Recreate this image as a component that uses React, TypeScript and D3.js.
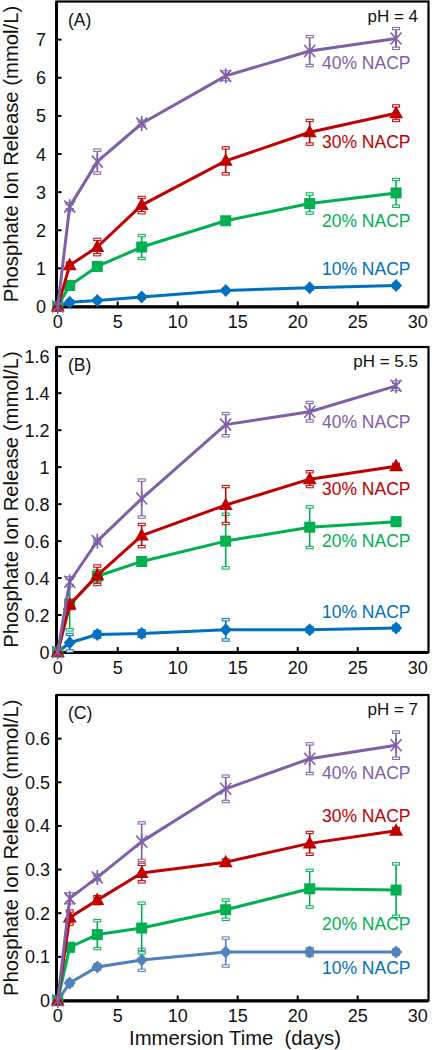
import React from 'react';
import * as d3 from 'd3';

// ---------- data ----------
const days = [0, 1, 3.3, 7, 14, 21, 28.2];
const seriesNames = ['10% NACP', '20% NACP', '30% NACP', '40% NACP'];
const xTicks = [0, 5, 10, 15, 20, 25, 30];

// Panel A, pH 4
const a10 = [0, 0.11, 0.16, 0.25, 0.42, 0.49, 0.55];
const a10Err = [0, 0.03, 0.03, 0.03, 0.03, 0.03, 0.03];
const a20 = [0, 0.55, 1.05, 1.56, 2.25, 2.7, 2.98];
const a20Err = [0, 0.06, 0.08, 0.3, 0.06, 0.25, 0.35];
const a30 = [0, 1.08, 1.56, 2.66, 3.82, 4.57, 5.07];
const a30Err = [0, 0.06, 0.2, 0.2, 0.34, 0.31, 0.19];
const a40 = [0, 2.62, 3.8, 4.8, 6.05, 6.7, 7.03];
const a40Err = [0, 0.08, 0.3, 0.06, 0.1, 0.38, 0.26];
const aTicks = [0, 1, 2, 3, 4, 5, 6, 7];
const aLabelY = [0.83, 2.09, 4.16, 6.24];

// Panel B, pH 5.5
const b10 = [0, 0.05, 0.095, 0.1, 0.12, 0.12, 0.13];
const b10Err = [0, 0.045, 0.015, 0.015, 0.055, 0.01, 0.01];
const b20 = [0, 0.26, 0.41, 0.49, 0.6, 0.675, 0.705];
const b20Err = [0, 0.14, 0.03, 0.02, 0.145, 0.11, 0.02];
const b30 = [0, 0.255, 0.415, 0.63, 0.795, 0.935, 1.005];
const b30Err = [0, 0.02, 0.05, 0.06, 0.1, 0.04, 0.01];
const b40 = [0, 0.38, 0.6, 0.83, 1.23, 1.3, 1.44];
const b40Err = [0, 0.02, 0.01, 0.1, 0.06, 0.05, 0.02];
const bTicks = [0, 0.2, 0.4, 0.6, 0.8, 1, 1.2, 1.4, 1.6];
const bLabelY = [0.184, 0.568, 0.849, 1.213];

// Panel C, pH 7
const c10 = [0, 0.04, 0.077, 0.093, 0.111, 0.111, 0.111];
const c10Err = [0, 0.005, 0.005, 0.024, 0.032, 0.008, 0.005];
const c20 = [0, 0.122, 0.151, 0.166, 0.208, 0.256, 0.253];
const c20Err = [0, 0.008, 0.032, 0.057, 0.022, 0.042, 0.06];
const c30 = [0, 0.19, 0.23, 0.292, 0.317, 0.36, 0.389];
const c30Err = [0, 0.015, 0.008, 0.02, 0.005, 0.025, 0.005];
const c40 = [0, 0.234, 0.282, 0.364, 0.485, 0.554, 0.585];
const c40Err = [0, 0.01, 0.005, 0.043, 0.029, 0.034, 0.03];
const cTicks = [0, 0.1, 0.2, 0.3, 0.4, 0.5, 0.6];
const cLabelY = [0.06, 0.161, 0.409, 0.507];

const FONT = "'Liberation Sans', Arial, Helvetica, sans-serif";
const PURPLE = '#7F60A8';
const RED = '#C00000';
const GREEN = '#00B050';
const BLUE = '#0070C0';
const STEEL = '#4F81BD';

type PanelDef = {
  tag: string;
  ph: string;
  yMax: number;
  ticks: number[];
  values: number[][];
  errs: number[][];
  labelY: number[];
  top: number;
  bottom: number;
  lineColors: string[];
  labelColors: string[];
  tickRight: number;
};

const panels: PanelDef[] = [
  {
    tag: '(A)', ph: 'pH = 4', yMax: 8, ticks: aTicks,
    values: [a10, a20, a30, a40], errs: [a10Err, a20Err, a30Err, a40Err],
    labelY: aLabelY, top: 1.5, bottom: 306.5,
    lineColors: [BLUE, GREEN, RED, PURPLE], labelColors: [BLUE, GREEN, RED, PURPLE],
    tickRight: 46,
  },
  {
    tag: '(B)', ph: 'pH = 5.5', yMax: 1.65, ticks: bTicks,
    values: [b10, b20, b30, b40], errs: [b10Err, b20Err, b30Err, b40Err],
    labelY: bLabelY, top: 347, bottom: 652,
    lineColors: [BLUE, GREEN, RED, PURPLE], labelColors: [BLUE, GREEN, RED, PURPLE],
    tickRight: 49.5,
  },
  {
    tag: '(C)', ph: 'pH = 7', yMax: 0.7, ticks: cTicks,
    values: [c10, c20, c30, c40], errs: [c10Err, c20Err, c30Err, c40Err],
    labelY: cLabelY, top: 695, bottom: 1000.5,
    lineColors: [STEEL, GREEN, RED, PURPLE], labelColors: [BLUE, GREEN, RED, PURPLE],
    tickRight: 50,
  },
];

const LEFT = 56.5;
const RIGHT = 428.5;

function Marker({ kind, color }: { kind: number; color: string }) {
  if (kind === 0) return <path d="M0,-6.5L6,0L0,6.5L-6,0Z" fill={color} />;
  if (kind === 1) return <rect x={-5.5} y={-5.5} width={11} height={11} fill={color} />;
  if (kind === 2) return <path d="M0,-7.5L7,5L-7,5Z" fill={color} />;
  return (
    <g stroke={color} strokeWidth={1.6} fill="none">
      <line x1={-5.5} y1={-6} x2={5.5} y2={6} />
      <line x1={-5.5} y1={6} x2={5.5} y2={-6} />
      <line x1={0} y1={-7.5} x2={0} y2={7.5} />
    </g>
  );
}

function Panel({ p }: { p: PanelDef }) {
  const x = d3.scaleLinear().domain([-0.1, 30.9]).range([LEFT, RIGHT]);
  const y = d3.scaleLinear().domain([0, p.yMax]).range([p.bottom, p.top]);
  const fmt = d3.format('');
  const line = d3.line<number>().x((_, i) => x(days[i])).y((v) => y(v));
  return (
    <g>
      {/* frame */}
      <rect x={LEFT} y={p.top} width={RIGHT - LEFT} height={p.bottom - p.top} fill="none" stroke="#000" strokeWidth={2.2} />
      <line x1={LEFT} x2={LEFT} y1={p.top} y2={p.bottom + 1.5} stroke="#000" strokeWidth={3} />
      <line x1={LEFT - 1.5} x2={RIGHT} y1={p.bottom + 0.5} y2={p.bottom + 0.5} stroke="#000" strokeWidth={3} />
      {/* y ticks */}
      {p.ticks.map((t) => (
        <g key={'y' + t}>
          {t !== 0 && <line x1={LEFT} x2={LEFT + 5} y1={y(t)} y2={y(t)} stroke="#000" strokeWidth={2} />}
          <text x={p.tickRight} y={y(t) + 6.5} textAnchor="end" fontSize={18} fontFamily={FONT} fill="#111">{fmt(t)}</text>
        </g>
      ))}
      {/* x ticks */}
      {xTicks.map((t) => (
        <g key={'x' + t}>
          {t !== 0 && t !== 30 && <line x1={x(t)} x2={x(t)} y1={p.bottom} y2={p.bottom - 5} stroke="#000" strokeWidth={2} />}
          <text x={x(t)} y={p.bottom + 21.5} textAnchor="middle" fontSize={18} fontFamily={FONT} fill="#111">{t}</text>
        </g>
      ))}
      {/* y title */}
      <text transform={`translate(17.5,${(p.top + p.bottom) / 2}) rotate(-90)`} textAnchor="middle" fontSize={20.3} fontFamily={FONT} fill="#111">
        Phosphate Ion Release (mmol/L)
      </text>
      <text x={68} y={p.top + 24} fontSize={17.5} fontFamily={FONT} fill="#111">{p.tag}</text>
      <text x={418} y={p.top + 20} textAnchor="end" fontSize={17} fontFamily={FONT} fill="#111">{p.ph}</text>
      {/* series */}
      {p.values.map((vals, s) => {
        const c = p.lineColors[s];
        return (
          <g key={'s' + s}>
            {vals.map((v, i) =>
              p.errs[s][i] > 0 ? (
                <g key={'e' + i}>
                  <line x1={x(days[i])} x2={x(days[i])} y1={y(v - p.errs[s][i])} y2={y(v + p.errs[s][i])} stroke={c} strokeWidth={1.6} />
                  <rect x={x(days[i]) - 3.5} y={y(v + p.errs[s][i]) - 1.2} width={7} height={2.4} fill="#fff" stroke={c} strokeWidth={1} />
                  <rect x={x(days[i]) - 3.5} y={y(v - p.errs[s][i]) - 1.2} width={7} height={2.4} fill="#fff" stroke={c} strokeWidth={1} />
                </g>
              ) : null
            )}
            <path d={line(vals) || ''} fill="none" stroke={c} strokeWidth={3} strokeLinejoin="round" />
            {vals.map((v, i) => (
              <g key={'m' + i} transform={`translate(${x(days[i])},${y(v)})`}>
                <Marker kind={s} color={c} />
              </g>
            ))}
          </g>
        );
      })}
      {/* series labels */}
      {seriesNames.map((n, s) => (
        <text key={'l' + s} x={x(29.4)} y={y(p.labelY[s])} textAnchor="end" fontSize={17.5} fontFamily={FONT} fill={p.labelColors[s]}>{n}</text>
      ))}
    </g>
  );
}

export default function App() {
  return (
    <svg width={432} height={1050} style={{ position: 'absolute', left: 0, top: 0, background: '#fff' }}>
      <rect x={0} y={0} width={432} height={1050} fill="#fff" />
      {panels.map((p) => (
        <Panel key={p.tag} p={p} />
      ))}
      <text x={235} y={1045} textAnchor="middle" fontSize={20.3} fontFamily={FONT} fill="#111" style={{ whiteSpace: 'pre' }}>
        {'Immersion Time  (days)'}
      </text>
    </svg>
  );
}
